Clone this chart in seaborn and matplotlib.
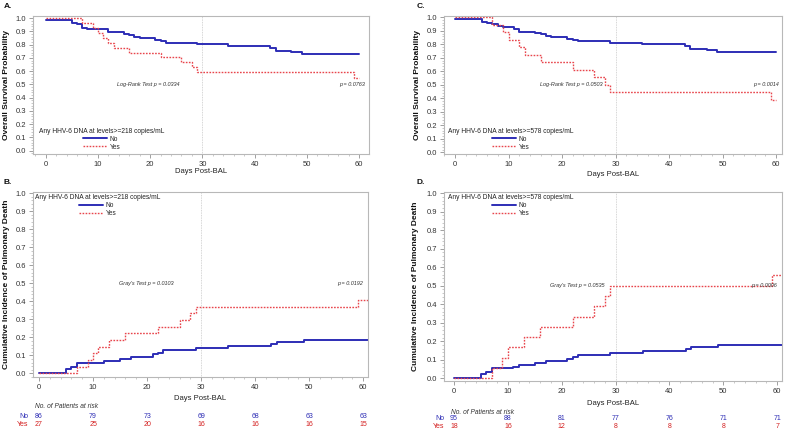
import matplotlib
matplotlib.use('Agg')
import pandas as pd
import matplotlib.pyplot as plt
import seaborn as sns
from matplotlib.ticker import MultipleLocator
from matplotlib.transforms import blended_transform_factory

# Данные: A - выживаемость (порог 218 копий/мл)
a_no_day = [0, 5, 6, 7, 8, 12, 15, 16, 17, 18, 21, 22, 23, 29, 35, 43, 44, 47, 49, 60]
a_no_val = [0.988, 0.965, 0.953, 0.93, 0.919, 0.895, 0.884, 0.872, 0.861, 0.849,
            0.837, 0.826, 0.814, 0.802, 0.79, 0.779, 0.756, 0.744, 0.733, 0.733]
a_yes_day = [0, 7, 9, 10, 11, 12, 13, 16, 22, 26, 28, 29, 59, 60]
a_yes_val = [1.0, 0.963, 0.926, 0.889, 0.852, 0.815, 0.778, 0.741, 0.704, 0.667,
             0.63, 0.593, 0.55, 0.55]

# B - кумулятивная частота (порог 218)
b_no_day = [0, 5, 6, 7, 12, 15, 17, 21, 22, 23, 29, 35, 43, 44, 49, 61]
b_no_val = [0, 0.023, 0.035, 0.058, 0.07, 0.081, 0.093, 0.105, 0.116, 0.128,
            0.14, 0.151, 0.163, 0.174, 0.186, 0.186]
b_yes_day = [0, 7, 9, 10, 11, 13, 16, 22, 26, 28, 29, 59, 61]
b_yes_val = [0, 0.037, 0.074, 0.111, 0.148, 0.185, 0.222, 0.259, 0.296, 0.333,
             0.37, 0.407, 0.407]

# C - выживаемость (порог 578)
c_no_day = [0, 5, 6, 7, 8, 9, 11, 12, 15, 16, 17, 18, 21, 22, 23, 29, 35, 43, 44, 47, 49, 60]
c_no_val = [0.99, 0.968, 0.958, 0.947, 0.937, 0.926, 0.916, 0.895, 0.884, 0.874, 0.863,
            0.853, 0.842, 0.832, 0.821, 0.811, 0.8, 0.789, 0.768, 0.757, 0.746, 0.746]
c_yes_day = [0, 7, 9, 10, 12, 13, 16, 22, 26, 28, 29, 59, 60]
c_yes_val = [1.0, 0.944, 0.889, 0.833, 0.778, 0.722, 0.667, 0.611, 0.556, 0.5,
             0.444, 0.389, 0.389]

# D - кумулятивная частота (порог 578)
d_no_day = [0, 5, 6, 7, 11, 12, 15, 17, 21, 22, 23, 29, 35, 43, 44, 49, 61]
d_no_val = [0, 0.021, 0.032, 0.053, 0.063, 0.074, 0.084, 0.095, 0.105, 0.116,
            0.126, 0.137, 0.147, 0.158, 0.168, 0.179, 0.179]
d_yes_day = [0, 7, 9, 10, 13, 16, 22, 26, 28, 29, 59, 61]
d_yes_val = [0, 0.056, 0.111, 0.167, 0.222, 0.278, 0.333, 0.389, 0.444, 0.5,
             0.556, 0.556]

# Пациенты под риском
risk_days = [0, 10, 20, 30, 40, 50, 60]
b_risk_no = [86, 79, 73, 69, 68, 63, 63]
b_risk_yes = [27, 25, 20, 16, 16, 16, 15]
d_risk_no = [95, 88, 81, 77, 76, 71, 71]
d_risk_yes = [18, 16, 12, 8, 8, 8, 7]

sns.set_style('white')
plt.rcParams['font.family'] = ['Liberation Sans', 'DejaVu Sans']

BLUE = '#2d2db5'
RED = '#e8454c'
GRID = '#b8b8b8'
W, H = 788, 429

fig = plt.figure(figsize=(W / 100, H / 100), dpi=100)


def px_axes(l, t, r, b):
    return fig.add_axes([l / W, 1 - b / H, (r - l) / W, (b - t) / H])


def draw_panel(ax, no_day, no_val, yes_day, yes_val, xlim, ylim, ylabel,
               ylab_x, xlab_y, legend_title, legend_loc, legend_anchor,
               test_text, test_x, p_text, p_x):
    df_no = pd.DataFrame({'day': no_day, 'val': no_val})
    df_yes = pd.DataFrame({'day': yes_day, 'val': yes_val})
    sns.lineplot(data=df_no, x='day', y='val', drawstyle='steps-post', color=BLUE,
                 lw=1.4, label='No', estimator=None, sort=False, ax=ax)
    sns.lineplot(data=df_yes, x='day', y='val', drawstyle='steps-post', color=RED,
                 lw=1.0, linestyle=(0, (1.2, 1.0)), label='Yes', estimator=None,
                 sort=False, ax=ax)
    ax.axvline(30, color='#c8c8c8', lw=0.6, linestyle=(0, (1, 1)), zorder=0)
    ax.set_xlim(*xlim)
    ax.set_ylim(*ylim)
    ax.xaxis.set_major_locator(MultipleLocator(10))
    ax.yaxis.set_major_locator(MultipleLocator(0.1))
    ax.xaxis.set_minor_locator(MultipleLocator(2))
    ax.yaxis.set_minor_locator(MultipleLocator(0.02))
    ax.yaxis.set_major_formatter(matplotlib.ticker.FormatStrFormatter('%.1f'))
    ax.tick_params(which='major', length=3, width=0.6, color='#909090',
                   labelsize=5.5, labelcolor='#333333', pad=2)
    ax.tick_params(which='minor', length=1.5, width=0.4, color='#a0a0a0')
    ax.tick_params(axis='x', which='both', bottom=True)
    ax.tick_params(axis='y', which='both', left=True)
    for sp in ax.spines.values():
        sp.set_color(GRID)
        sp.set_linewidth(0.8)
    ax.set_xlabel('Days Post-BAL', fontsize=5.5, color='#222222')
    ax.xaxis.set_label_coords(0.5, xlab_y)
    ax.set_ylabel(ylabel, fontsize=6, fontweight='bold', color='#111111')
    ax.yaxis.set_label_coords(ylab_x, 0.5)
    leg = ax.legend(title=legend_title, loc=legend_loc, bbox_to_anchor=legend_anchor,
                    frameon=False, fontsize=4.8, title_fontsize=4.8,
                    handlelength=3.6, handletextpad=0.4, labelspacing=0.15,
                    borderpad=0, borderaxespad=0)
    leg.get_title().set_color('#222222')
    ax.text(test_x, 0.5, test_text, fontsize=4, style='italic', ha='center',
            va='center', color='#333333')
    ax.text(p_x, 0.5, p_text, fontsize=4, style='italic', ha='right',
            va='center', color='#333333')


def risk_table(ax, no_counts, yes_counts, lab_x, title_x, y_title, y_no, y_yes):
    tr = blended_transform_factory(ax.transData, fig.transFigure)
    fig.text(title_x / W, 1 - y_title / H, 'No. of Patients at risk', fontsize=4.8,
             style='italic', ha='left', va='center', color='#333333')
    fig.text(lab_x / W, 1 - y_no / H, 'No', fontsize=5, ha='right', va='center', color=BLUE)
    fig.text(lab_x / W, 1 - y_yes / H, 'Yes', fontsize=5, ha='right', va='center', color='#d42020')
    for d, n_no, n_yes in zip(risk_days, no_counts, yes_counts):
        ax.text(d, 1 - y_no / H, str(n_no), transform=tr, fontsize=5, ha='center',
                va='center', color=BLUE)
        ax.text(d, 1 - y_yes / H, str(n_yes), transform=tr, fontsize=5, ha='center',
                va='center', color='#d42020')


ax_a = px_axes(33, 16, 369, 154)
ax_b = px_axes(33, 192, 368, 377)
ax_c = px_axes(444, 16, 782, 154)
ax_d = px_axes(444, 192, 782, 381)

draw_panel(ax_a, a_no_day, a_no_val, a_yes_day, a_yes_val, (-2.43, 61.9), (-0.025, 1.017),
           'Overall Survival Probability', -0.068, -0.105,
           'Any HHV-6 DNA at levels>=218 copies/mL', 'lower left', (0.018, 0.025),
           'Log-Rank Test p = 0.0334', 19.6, 'p = 0.0763', 61.2)
draw_panel(ax_b, b_no_day, b_no_val, b_yes_day, b_yes_val, (-1.11, 60.87), (-0.02, 1.007),
           'Cumulative Incidence of Pulmonary Death', -0.07, -0.095,
           'Any HHV-6 DNA at levels>=218 copies/mL', 'upper left', (0.006, 0.99),
           "Gray's Test p = 0.0103", 19.8, 'p = 0.0192', 60)
draw_panel(ax_c, c_no_day, c_no_val, c_yes_day, c_yes_val, (-2.06, 61.1), (-0.013, 1.01),
           'Overall Survival Probability', -0.068, -0.12,
           'Any HHV-6 DNA at levels>=578 copies/mL', 'lower left', (0.012, 0.025),
           'Log-Rank Test p = 0.0503', 21.7, 'p = 0.0014', 60.6)
draw_panel(ax_d, d_no_day, d_no_val, d_yes_day, d_yes_val, (-1.86, 60.9), (-0.015, 1.007),
           'Cumulative Incidence of Pulmonary Death', -0.074, -0.103,
           'Any HHV-6 DNA at levels>=578 copies/mL', 'upper left', (0.012, 0.99),
           "Gray's Test p = 0.0535", 22.9, 'p = 0.0006', 60)

risk_table(ax_b, b_risk_no, b_risk_yes, 28, 35, 407, 416, 424)
risk_table(ax_d, d_risk_no, d_risk_yes, 444, 451, 412, 418, 426)

for letter, x, y in [('A.', 4, 6), ('B.', 4, 182), ('C.', 417, 6), ('D.', 417, 183)]:
    fig.text(x / W, 1 - y / H, letter, fontsize=6, fontweight='bold', ha='left',
             va='center', color='#111111')

fig.savefig('out.png', dpi=100)
